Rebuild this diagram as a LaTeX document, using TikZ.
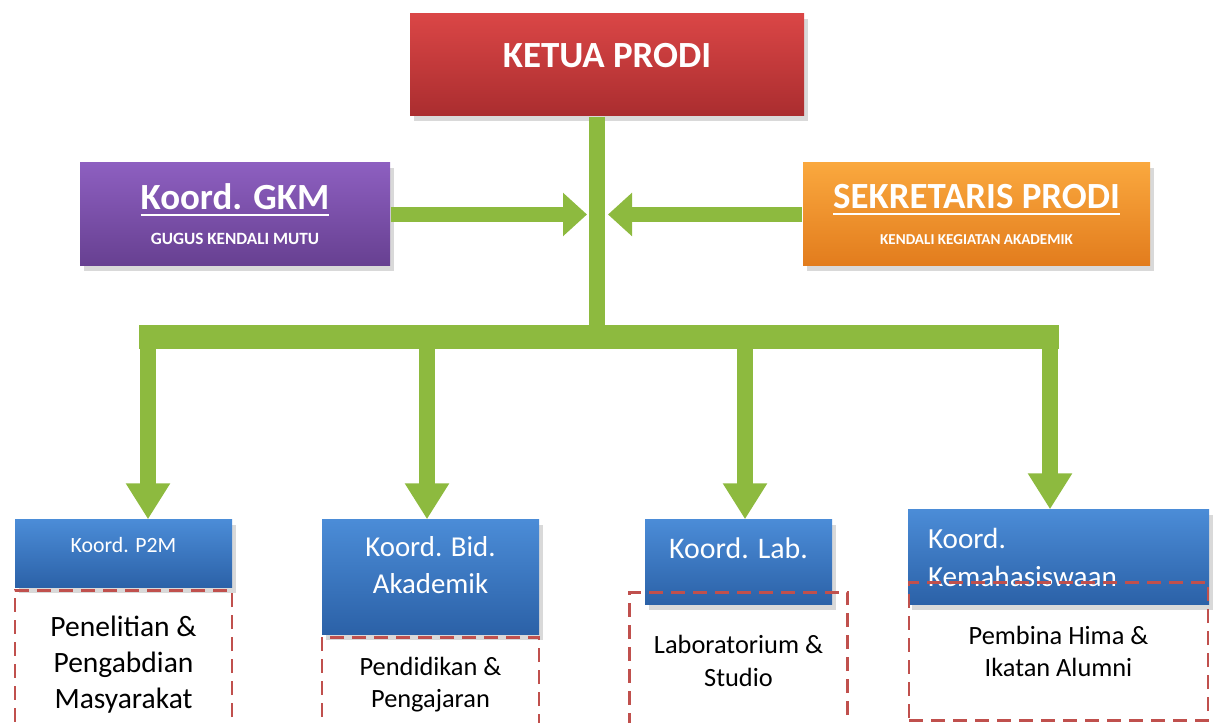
\documentclass[tikz,border=0pt]{standalone}
\usepackage{fontspec}
\setmainfont{Carlito}
\usepackage{tikz}
\usetikzlibrary{positioning}
\usetikzlibrary{arrows.meta}
\usetikzlibrary{shadows}
\usepackage{xcolor}
\definecolor{redtop}{HTML}{DA4646}
\definecolor{redbot}{HTML}{AA2D2F}
\definecolor{purpletop}{HTML}{8D5FC0}
\definecolor{purplebot}{HTML}{674091}
\definecolor{orangetop}{HTML}{FAA83E}
\definecolor{orangebot}{HTML}{E27C1D}
\definecolor{bluetop}{HTML}{4B8CD7}
\definecolor{bluebot}{HTML}{2B61A7}
\definecolor{barcol}{HTML}{8DBA3F}
\definecolor{dashcol}{HTML}{C0504D}
\tikzset{>=latex}

\begin{document}
\begin{tikzpicture}
        % 1px of the reference = 0.01cm
        \useasboundingbox (0,0) rectangle (12.13,-7.23);
        \clip (0,0) rectangle (12.13,-7.23);
        \tikzstyle{orgbox}=[rectangle, inner sep=0pt, text=white, drop shadow={opacity=0.3, shadow xshift=0.04cm, shadow yshift=-0.05cm}]
        \tikzstyle{redbox}=[orgbox, top color=redtop, bottom color=redbot, minimum width=3.94cm, minimum height=1.02cm]
        \tikzstyle{purplebox}=[orgbox, top color=purpletop, bottom color=purplebot, minimum width=3.10cm, minimum height=1.03cm, align=center, font=\bfseries]
        \tikzstyle{orangebox}=[orgbox, top color=orangetop, bottom color=orangebot, minimum width=3.47cm, minimum height=1.03cm, align=center, font=\bfseries]
        \tikzstyle{bluebox}=[orgbox, top color=bluetop, bottom color=bluebot, minimum width=2.17cm]
        \tikzstyle{dashbox}=[rectangle, draw=dashcol, line width=0.8pt, dash pattern=on 0.14cm off 0.08cm, inner sep=0pt, align=center, text=black]
        \tikzstyle{greenline}=[draw=barcol, line width=0.16cm]
        \tikzstyle{greenarrow}=[greenline, -{Triangle[width=0.42cm,length=0.36cm]}]
        \tikzstyle{sidearrow}=[greenline, line width=0.15cm, -{Triangle[width=0.42cm,length=0.24cm]}]

        \node[redbox, text depth=0.2cm, font=\fontsize{10.5}{12}\selectfont\bfseries] (ketua) at (6.07,-0.65) {KETUA PRODI};
        \node[purplebox] (gkm) at (2.35,-2.145) {{\fontsize{10.5}{12}\selectfont\underline{Koord. GKM}}\\[-2pt]{\fontsize{4.9}{6}\selectfont GUGUS KENDALI MUTU}};
        \node[orangebox] (sek) at (9.765,-2.145) {{\fontsize{10.5}{12}\selectfont\underline{SEKRETARIS PRODI}}\\[-2pt]{\fontsize{4.3}{5}\selectfont KENDALI KEGIATAN AKADEMIK}};

        \node[bluebox, minimum height=0.68cm, text depth=0.18cm, font=\fontsize{6.2}{7.5}\selectfont] (p2m) at (1.235,-5.54) {Koord. P2M};
        \node[bluebox, minimum height=1.15cm, font=\fontsize{8.2}{10.5}\selectfont] (akd) at (4.305,-5.775) {\begin{tabular}{@{}c@{}}Koord. Bid.\\Akademik\\[0.2cm]\end{tabular}};
        \node[bluebox, minimum width=1.87cm, minimum height=0.85cm, text depth=0.28cm, font=\fontsize{8.5}{10.5}\selectfont] (lab) at (7.385,-5.625) {Koord. Lab.};
        \node[bluebox, minimum width=3.01cm, minimum height=0.95cm, inner xsep=0.2cm, text width=2.61cm, align=left, font=\fontsize{8.3}{10.8}\selectfont] (kmh) at (10.585,-5.575) {Koord.\\Kemahasiswaan};

        % the first three run on below the page
        \node[dashbox, minimum width=2.17cm, text height=0.46cm, text depth=1.5cm, below=0pt of p2m, font=\fontsize{8.4}{10.3}\selectfont] (tugas1) {\begin{tabular}[t]{@{}c@{}}Penelitian \&\\Pengabdian\\Masyarakat\end{tabular}};
        \node[dashbox, minimum width=2.17cm, text height=0.38cm, text depth=1.0cm, below=0pt of akd, font=\fontsize{7.5}{9.1}\selectfont] (tugas2) {\begin{tabular}[t]{@{}c@{}}Pendidikan \&\\Pengajaran\end{tabular}};
        \node[dashbox, minimum width=2.18cm, text height=0.61cm, text depth=1.3cm, below=-0.15cm of lab, font=\fontsize{7.5}{9.4}\selectfont] (tugas3) {\begin{tabular}[t]{@{}c@{}}Laboratorium \&\\Studio\end{tabular}};
        \node[dashbox, minimum width=2.99cm, minimum height=1.38cm, below=-0.25cm of kmh, font=\fontsize{7.5}{9.1}\selectfont] (tugas4) {Pembina Hima \&\\Ikatan Alumni};

        \coordinate (hub) at (5.97,-3.37);
        \coordinate (jl) at (5.87,-2.145);
        \coordinate (jr) at (6.08,-2.145);
        \coordinate (barL) at (1.39,-3.37);
        \coordinate (barR) at (10.59,-3.37);
        \coordinate (d1) at (1.48,-3.37);
        \coordinate (d2) at (4.27,-3.37);
        \coordinate (d3) at (7.45,-3.37);
        \coordinate (d4) at (10.50,-3.37);

        \draw[greenline] (ketua.south -| hub) -- (hub);
        \draw[greenline, line width=0.24cm] (barL) -- (barR);
        \draw[sidearrow] (gkm.east) -- (jl);
        \draw[sidearrow] (sek.west) -- (jr);
        \foreach \d/\n in {d1/p2m, d2/akd, d3/lab, d4/kmh}
                \draw[greenarrow] (\d) -- (\d |- \n.north);
\end{tikzpicture}
\end{document}
